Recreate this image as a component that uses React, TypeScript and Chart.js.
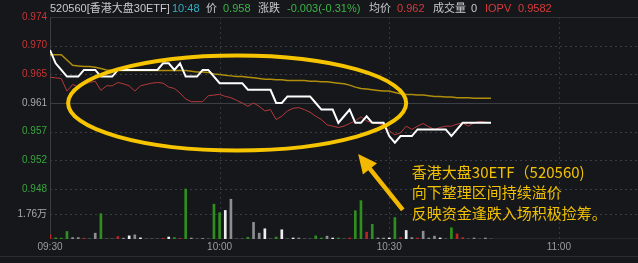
import React, { useEffect, useRef } from 'react';
import { Chart, registerables } from 'chart.js';

Chart.register(...registerables);

// ---------- data ----------
const timeTickMinutes = [0, 30, 60, 90];
const timeTickLabels = ['09:30', '10:00', '10:30', '11:00'];

const priceTicks = [0.974, 0.96967, 0.96533, 0.961, 0.95667, 0.95233, 0.948];
const priceTickLabels = ['0.974', '0.970', '0.965', '0.961', '0.957', '0.952', '0.948'];
const priceTickColors = ['#c93535', '#c93535', '#c93535', '#a6a9ae', '#3aa53d', '#3aa53d', '#3aa53d'];

const volumeTicks = [1.76];
const volumeTickLabels = ['1.76万'];
const volumeTop = 3.52;

// price (white), one value per minute from 09:30
const priceLine = [
  0.969, 0.967, 0.966, 0.965, 0.965, 0.965, 0.966, 0.966, 0.966, 0.965,
  0.965, 0.965, 0.966, 0.966, 0.966, 0.966, 0.966, 0.966, 0.966, 0.966,
  0.967, 0.967, 0.966, 0.967, 0.965, 0.965, 0.965, 0.966, 0.966, 0.965,
  0.964, 0.964, 0.964, 0.964, 0.964, 0.963, 0.963, 0.963, 0.963, 0.963,
  0.961, 0.961, 0.962, 0.962, 0.962, 0.962, 0.962, 0.961, 0.960, 0.960,
  0.960, 0.958, 0.959, 0.960, 0.958, 0.958, 0.959, 0.958, 0.958, 0.958,
  0.956, 0.955, 0.956, 0.956, 0.956, 0.957, 0.957, 0.957, 0.957, 0.957,
  0.957, 0.956, 0.957, 0.958, 0.958, 0.958, 0.958, 0.958, 0.958,
];

// IOPV (red)
const iopvLine = [
  0.9649, 0.9648, 0.9647, 0.9628, 0.9638, 0.9634, 0.9638, 0.9641, 0.9643, 0.9629,
  0.9636, 0.9636, 0.9641, 0.9639, 0.9636, 0.9628, 0.9636, 0.9638, 0.9640, 0.9641,
  0.9640, 0.9634, 0.9632, 0.9625, 0.9616, 0.9612, 0.9612, 0.9612, 0.9621, 0.9622,
  0.9623, 0.9620, 0.9618, 0.9614, 0.9610, 0.9605, 0.9610, 0.9605, 0.9598, 0.9600,
  0.9585, 0.9590, 0.9598, 0.9602, 0.9603, 0.9600, 0.9596, 0.9590, 0.9585, 0.9577,
  0.9575, 0.9573, 0.9575, 0.9579, 0.9583, 0.9589, 0.9583, 0.9580, 0.9579, 0.9577,
  0.9568, 0.9562, 0.9565, 0.9575, 0.9570, 0.9575, 0.9579, 0.9574, 0.9570, 0.9573,
  0.9575, 0.9575, 0.9578, 0.9580, 0.9575, 0.9580, 0.9582, 0.9581, 0.9580,
];

// average price (gold)
const avgLine = [
  0.9683, 0.9683, 0.9683, 0.9675, 0.9667, 0.9666, 0.9665, 0.9665, 0.9664, 0.9662,
  0.9660, 0.9659, 0.9659, 0.9659, 0.9659, 0.9659, 0.9659, 0.9659, 0.9659, 0.9659,
  0.9659, 0.9659, 0.9659, 0.9659, 0.9659, 0.9658, 0.9657, 0.9657, 0.9656, 0.9654,
  0.9653, 0.9652, 0.9651, 0.9650, 0.9650, 0.9649, 0.9648, 0.9647, 0.9646, 0.9646,
  0.9645, 0.9645, 0.9644, 0.9644, 0.9644, 0.9644, 0.9643, 0.9643, 0.9642, 0.9642,
  0.9641, 0.9640, 0.9639, 0.9637, 0.9634, 0.9632, 0.9631, 0.9630, 0.9629, 0.9628,
  0.9628, 0.9626, 0.9624, 0.9623, 0.9623, 0.9622, 0.9622, 0.9621, 0.9620, 0.9620,
  0.9619, 0.9619, 0.9618, 0.9618, 0.9618, 0.9617, 0.9617, 0.9617, 0.9617,
];

// volume (万) per minute
const volumes = [
  0.29, 0.08, 0.06, 0.53, 0.10, 0.10, 0.06, 0, 0.41, 1.78,
  0, 0, 0.17, 0.06, 0.22, 0.29, 0.08, 0, 0, 0,
  0.05, 0.14, 0.10, 0.05, 3.52, 0.07, 0, 0.04, 0, 2.45,
  1.85, 2.01, 2.80, 0, 0, 0.12, 1.17, 0.41, 0.72, 0,
  0.14, 0.65, 0, 0.07, 0.07, 0, 0, 0.22, 0.07, 0.20,
  0.07, 0.07, 0, 0.07, 1.99, 2.70, 0.48, 1.03, 0.07, 0.07,
  0.07, 1.51, 0.10, 0.60, 0.10, 0.07, 0.55, 0.07, 0.20, 0.07,
  0, 0.79, 0.36, 0.10, 0, 0.07, 0, 0.07, 0,
];
// r = up, g = down, w = flat (bright), n = neutral (grey)
const volumeKinds = [
  'r', 'g', 'g', 'g', 'n', 'n', 'r', 'n', 'n', 'g',
  'n', 'n', 'r', 'n', 'w', 'n', 'w', 'n', 'n', 'n',
  'r', 'w', 'g', 'r', 'g', 'n', 'n', 'n', 'n', 'g',
  'g', 'w', 'n', 'n', 'n', 'g', 'n', 'n', 'w', 'n',
  'g', 'w', 'n', 'w', 'n', 'n', 'n', 'g', 'g', 'n',
  'w', 'g', 'n', 'r', 'g', 'g', 'r', 'g', 'n', 'n',
  'w', 'g', 'r', 'w', 'n', 'r', 'n', 'n', 'n', 'w',
  'n', 'g', 'r', 'r', 'n', 'n', 'n', 'n', 'n',
];

const headerItems = [
  { text: '520560[香港大盘30ETF]', color: '#c9cacd', x: 50 },
  { text: '10:48', color: '#2fb0c2', x: 172 },
  { text: '价', color: '#c9cacd', x: 206 },
  { text: '0.958', color: '#3cb446', x: 223 },
  { text: '涨跌', color: '#c9cacd', x: 258 },
  { text: '-0.003(-0.31%)', color: '#3cb446', x: 287 },
  { text: '均价', color: '#c9cacd', x: 369 },
  { text: '0.962', color: '#d83a3a', x: 397 },
  { text: '成交量', color: '#c9cacd', x: 433 },
  { text: '0', color: '#c9cacd', x: 471 },
  { text: 'IOPV', color: '#d83a3a', x: 485 },
  { text: '0.9582', color: '#d83a3a', x: 518 },
];

const noteLines = ['香港大盘30ETF（520560)', '向下整理区间持续溢价', '反映资金逢跌入场积极捡筹。'];

// layout proportions of the price pane vs. volume pane (pixels)
const PRICE_PANE = 172;
const VOLUME_PANE = 50;
const priceMax = priceTicks[0];
const priceLow = priceTicks[priceTicks.length - 1];
const priceMin = priceLow - (priceMax - priceLow) * VOLUME_PANE / PRICE_PANE;
const volumeMax = volumeTop * (PRICE_PANE + VOLUME_PANE) / VOLUME_PANE;
const volToPrice = (v: number) => priceMin + (v / volumeMax) * (priceMax - priceMin);

const axisTicks = [...priceTicks, ...volumeTicks.map(volToPrice)];
const axisLabels = [...priceTickLabels, ...volumeTickLabels];
const axisColors = [...priceTickColors, ...volumeTicks.map(() => '#a6a9ae')];

const BG = '#15171b';
const FONT = '"Liberation Sans", "Noto Sans CJK SC", sans-serif';
const CJK = '"Noto Sans CJK SC", sans-serif';
const volColors: Record<string, string> = { r: '#b82626', g: '#2f8f1e', w: '#ededed', n: '#8c8e92' };

const decorPlugin = {
  id: 'decor',
  beforeDraw(chart: any) {
    const { ctx, width, height } = chart;
    ctx.save();
    ctx.fillStyle = BG;
    ctx.fillRect(0, 0, width, height);
    ctx.restore();
  },
  beforeDatasetsDraw(chart: any) {
    const { ctx, chartArea: a, scales } = chart;
    const y = scales.y, x = scales.x;
    ctx.save();
    ctx.lineWidth = 1;
    const hline = (py: number, color: string, dash: number[]) => {
      ctx.strokeStyle = color;
      ctx.setLineDash(dash);
      ctx.beginPath();
      ctx.moveTo(a.left, Math.round(py) + 0.5);
      ctx.lineTo(a.right, Math.round(py) + 0.5);
      ctx.stroke();
    };
    axisTicks.forEach((v, i) => {
      const py = y.getPixelForValue(v);
      if (i === 0) hline(py, '#2f3238', []);
      else if (i === 3) hline(py, '#3b3e45', []);
      else hline(py, '#3a3d44', [2, 3]);
    });
    hline(a.bottom - 1, '#24272c', []);
    timeTickMinutes.forEach((m, i) => {
      const px = Math.round(x.getPixelForValue(m)) + 0.5;
      ctx.strokeStyle = i === 0 ? '#3a3d44' : '#33363c';
      ctx.setLineDash(i === 0 ? [] : [2, 3]);
      ctx.beginPath();
      ctx.moveTo(px, a.top);
      ctx.lineTo(px, a.bottom);
      ctx.stroke();
    });
    ctx.restore();
  },
  afterDatasetsDraw(chart: any) {
    const { ctx, scales } = chart;
    const x = scales.x, y = scales.y;
    ctx.save();
    // ellipse
    const cx = x.getPixelForValue(33.1);
    const cy = y.getPixelForValue(0.961);
    const rx = x.getPixelForValue(33.1 + 29.9) - cx;
    const ry = 47.5;
    ctx.strokeStyle = '#f7c500';
    ctx.lineWidth = 4;
    ctx.beginPath();
    ctx.ellipse(cx, cy, rx, ry, 0, 0, Math.PI * 2);
    ctx.stroke();

    // arrow
    const tipX = x.getPixelForValue(54.5), tipY = y.getPixelForValue(0.95329);
    const tailX = x.getPixelForValue(62.4), tailY = y.getPixelForValue(0.94483);
    const dx = tipX - tailX, dy = tipY - tailY;
    const len = Math.hypot(dx, dy);
    const ux = dx / len, uy = dy / len;
    const headLen = 19, headHalf = 9;
    ctx.strokeStyle = '#f2b900';
    ctx.fillStyle = '#f2b900';
    ctx.lineWidth = 4.5;
    ctx.beginPath();
    ctx.moveTo(tailX, tailY);
    ctx.lineTo(tipX - ux * (headLen - 2), tipY - uy * (headLen - 2));
    ctx.stroke();
    const bx = tipX - ux * headLen, by = tipY - uy * headLen;
    ctx.beginPath();
    ctx.moveTo(tipX, tipY);
    ctx.lineTo(bx - uy * headHalf, by + ux * headHalf);
    ctx.lineTo(bx + uy * headHalf, by - ux * headHalf);
    ctx.closePath();
    ctx.fill();

    // note text
    ctx.fillStyle = '#f2c100';
    ctx.font = `15px ${CJK}`;
    ctx.textBaseline = 'middle';
    ctx.textAlign = 'left';
    const tx = x.getPixelForValue(64.0);
    const ty = y.getPixelForValue(0.95057);
    noteLines.forEach((t, i) => ctx.fillText(t, tx, ty + i * 20.5));
    ctx.restore();
  },
  afterDraw(chart: any) {
    const { ctx, width } = chart;
    ctx.save();
    ctx.font = `11px ${FONT}`;
    ctx.textBaseline = 'middle';
    ctx.textAlign = 'left';
    headerItems.forEach((h) => {
      ctx.fillStyle = h.color;
      ctx.fillText(h.text, h.x, 8.5);
    });
    // bottom separator
    ctx.strokeStyle = '#2a2d33';
    ctx.lineWidth = 1;
    ctx.beginPath();
    ctx.moveTo(0, 256.5);
    ctx.lineTo(width, 256.5);
    ctx.stroke();
    ctx.restore();
  },
};

export default function App() {
  const ref = useRef<HTMLCanvasElement | null>(null);

  useEffect(() => {
    document.body.style.margin = '0';
    document.body.style.background = BG;
    const canvas = ref.current;
    if (!canvas) return;

    const toXY = (arr: number[]) => arr.map((v, i) => ({ x: i, y: v }));

    const chart = new Chart(canvas, {
      type: 'line',
      data: {
        datasets: [
          {
            type: 'bar',
            label: '成交量',
            yAxisID: 'yv',
            data: toXY(volumes),
            backgroundColor: volumeKinds.map((k) => volColors[k]),
            barThickness: 2,
            order: 4,
          } as any,
          {
            label: '均价',
            yAxisID: 'y',
            data: toXY(avgLine),
            borderColor: '#b08e0c',
            borderWidth: 1.5,
            pointRadius: 0,
            tension: 0,
            order: 3,
          },
          {
            label: 'IOPV',
            yAxisID: 'y',
            data: toXY(iopvLine),
            borderColor: '#b53a3a',
            borderWidth: 1,
            pointRadius: 0,
            tension: 0,
            order: 2,
          },
          {
            label: '价',
            yAxisID: 'y',
            data: toXY(priceLine),
            borderColor: '#ffffff',
            borderWidth: 2,
            pointRadius: 0,
            tension: 0,
            order: 1,
          },
        ],
      },
      options: {
        responsive: false,
        animation: false,
        events: [],
        layout: { padding: { top: 17, right: 0, left: 0, bottom: 0 } },
        plugins: { legend: { display: false }, tooltip: { enabled: false } },
        scales: {
          x: {
            type: 'linear',
            offset: false,
            min: 0,
            max: 104,
            afterBuildTicks: (s: any) => {
              s.ticks = timeTickMinutes.map((v) => ({ value: v }));
            },
            afterFit: (s: any) => {
              s.height = 24;
            },
            ticks: {
              autoSkip: false,
              maxRotation: 0,
              padding: 2,
              color: '#9a9ca1',
              font: { size: 10, family: FONT },
              callback: (_v: any, i: number) => timeTickLabels[i],
            },
            grid: { display: false, drawTicks: false, offset: false },
            border: { display: false },
          },
          yv: {
            type: 'linear',
            display: false,
            min: 0,
            max: volumeMax,
          },
          y: {
            type: 'linear',
            position: 'left',
            min: priceMin,
            max: priceMax,
            afterBuildTicks: (s: any) => {
              s.ticks = axisTicks.map((v) => ({ value: v }));
            },
            afterFit: (s: any) => {
              s.width = 50;
            },
            ticks: {
              autoSkip: false,
              padding: 3,
              color: (c: any) => axisColors[c.index] || '#a6a9ae',
              font: { size: 10, family: FONT },
              callback: (_v: any, i: number) => axisLabels[i],
            },
            grid: { display: false, drawTicks: false },
            border: { display: false },
          },
        } as any,
      },
      plugins: [decorPlugin],
    } as any);

    return () => chart.destroy();
  }, []);

  return (
    <div style={{ width: 638, height: 263, background: BG }}>
      <canvas ref={ref} width={638} height={263} style={{ display: 'block' }} />
    </div>
  );
}
